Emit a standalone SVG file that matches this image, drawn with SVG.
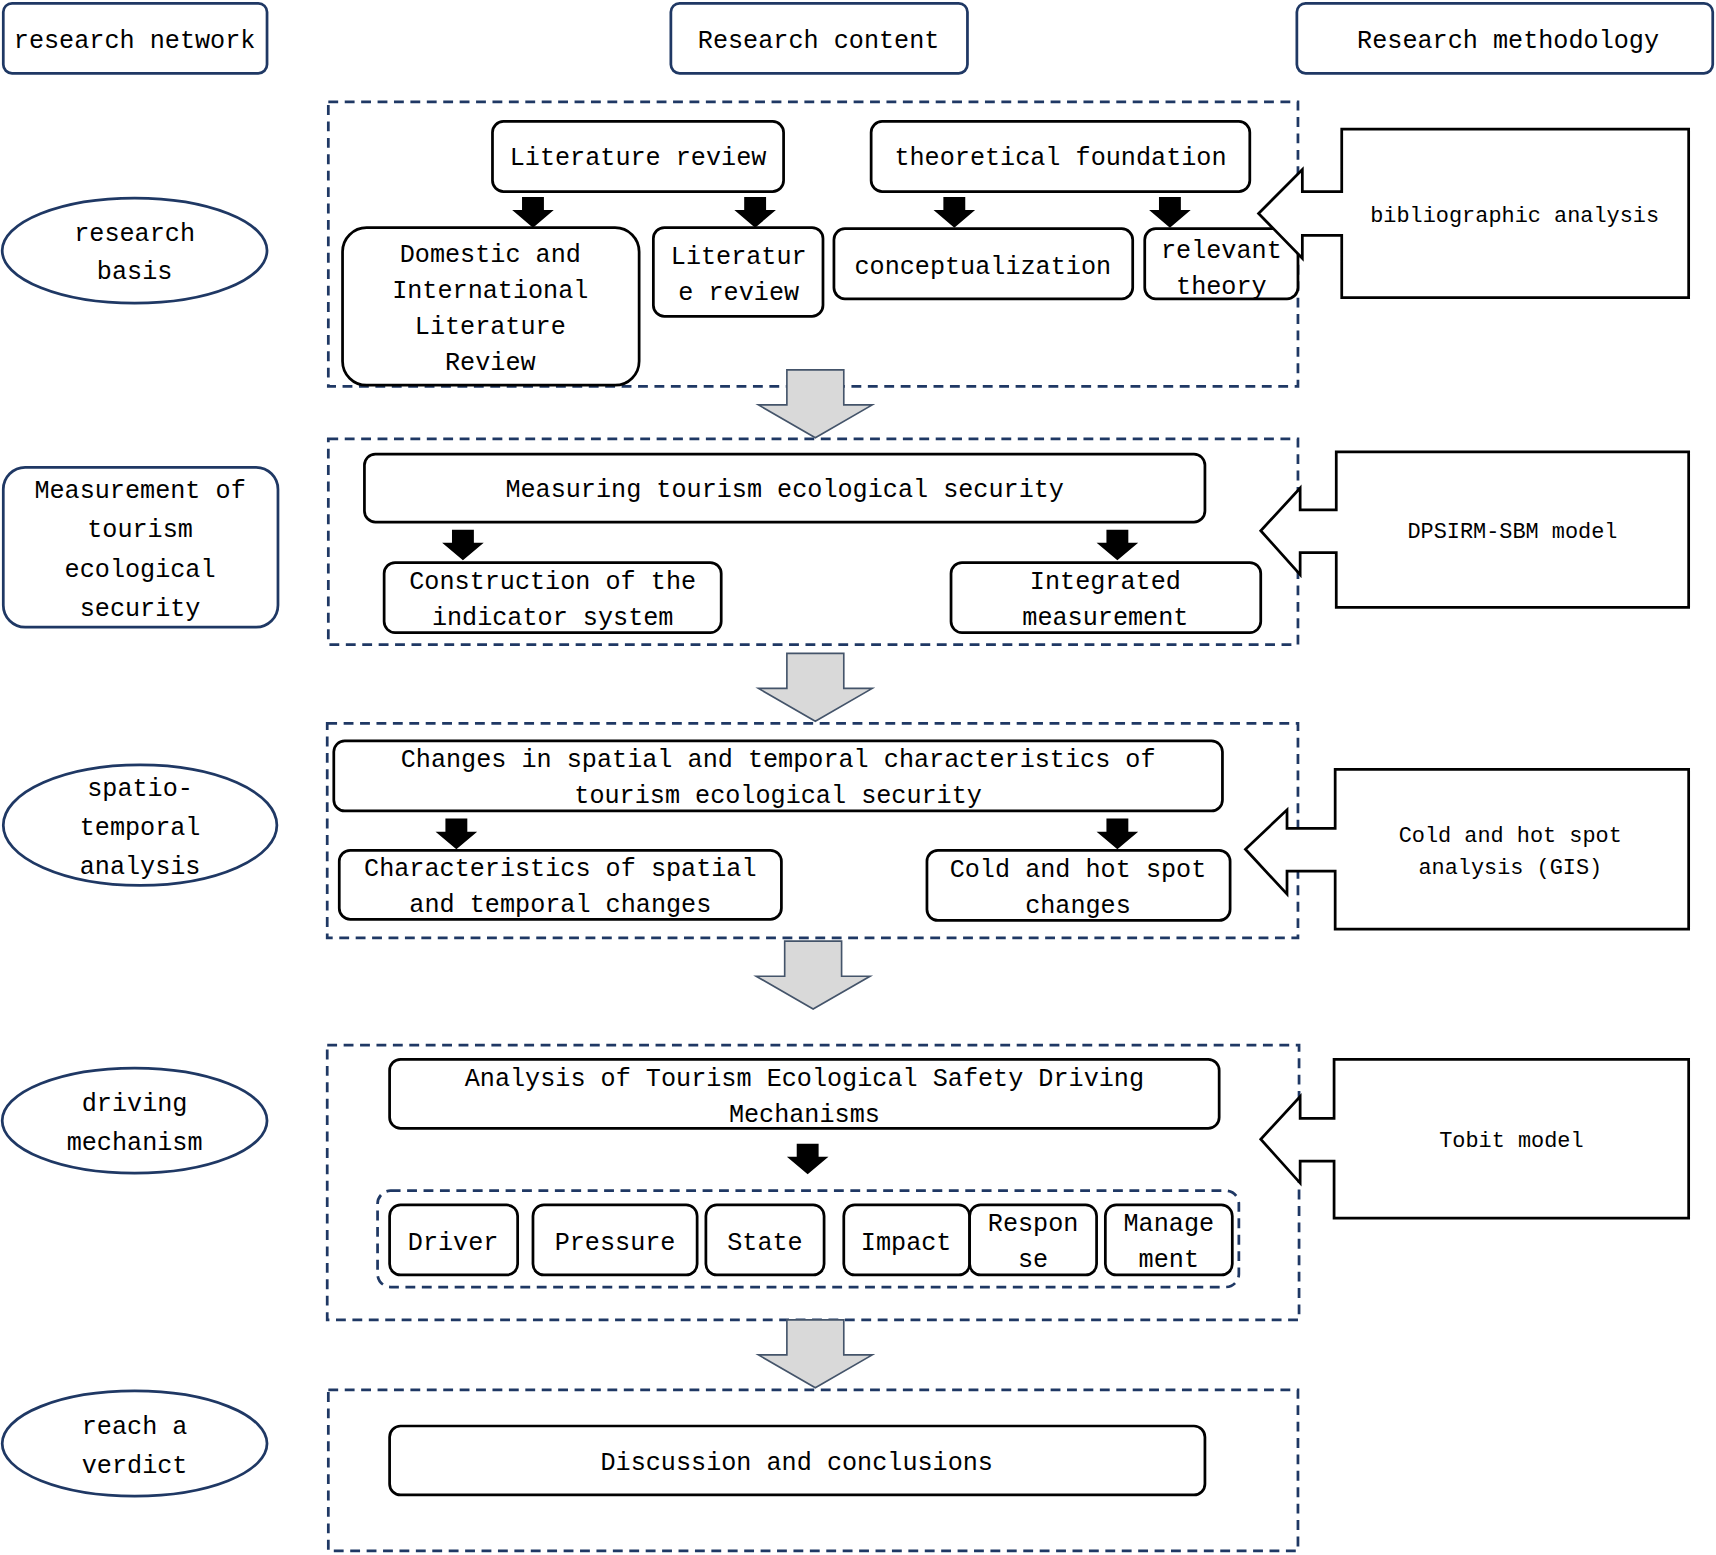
<svg xmlns="http://www.w3.org/2000/svg" width="1716" height="1555" viewBox="0 0 1716 1555">
<style>
text{font-family:"Liberation Mono","DejaVu Sans Mono",monospace;font-size:23px;fill:#000;text-anchor:middle}
.m{font-size:20px}
.hd{fill:#fff;stroke:#1f3864;stroke-width:2.5}
.dash{fill:none;stroke:#1f3864;stroke-width:2.5;stroke-dasharray:9 6}
.n{fill:#fff;stroke:#000;stroke-width:2.5}
.ba{fill:#000}
.ga{fill:#d9d9d9;stroke:#44546a;stroke-width:1.5}
.mt{fill:#fff;stroke:#000;stroke-width:2.5}
</style>
<defs>
<path id="bk" d="M-10,0 H10 V12 H19 L0,28 L-19,12 H-10 Z" class="ba"/>
<path id="gr" d="M-26,0 H26 V32 H52 L0,62 L-52,32 H-26 Z" class="ga"/>
</defs>
<rect width="1716" height="1555" fill="#fff"/>
<g transform="scale(1.0944)">
<g id="headers">
<rect class="hd" x="3" y="3" width="241" height="64" rx="8"/><text x="123" y="44">research network</text>
<rect class="hd" x="613" y="3" width="271" height="64" rx="8"/><text x="748" y="44">Research content</text>
<rect class="hd" x="1185" y="3" width="380" height="64" rx="8"/><text x="1378" y="44">Research methodology</text>
</g>
<g id="stages">
<ellipse class="hd" cx="123" cy="229" rx="121" ry="48"/><text x="123" y="220">research<tspan x="123" dy="35">basis</tspan></text>
<rect class="hd" x="3" y="427" width="251" height="146" rx="20"/><text x="128" y="455">Measurement of<tspan x="128" dy="36">tourism</tspan><tspan x="128" dy="36">ecological</tspan><tspan x="128" dy="36">security</tspan></text>
<ellipse class="hd" cx="128" cy="754" rx="125" ry="55"/><text x="128" y="727">spatio-<tspan x="128" dy="36">temporal</tspan><tspan x="128" dy="36">analysis</tspan></text>
<ellipse class="hd" cx="123" cy="1024" rx="121" ry="48"/><text x="123" y="1015">driving<tspan x="123" dy="36">mechanism</tspan></text>
<ellipse class="hd" cx="123" cy="1319" rx="121" ry="48"/><text x="123" y="1310">reach a<tspan x="123" dy="36">verdict</tspan></text>
</g>
<g id="sections">
<rect class="dash" x="300" y="93" width="886" height="260"/>
<rect class="dash" x="300" y="401" width="886" height="188"/>
<rect class="dash" x="299" y="661" width="887" height="196"/>
<rect class="dash" x="299" y="955" width="888" height="251"/>
<rect class="dash" x="300" y="1270" width="886" height="147"/>
<rect class="dash" x="345" y="1088" width="787" height="88" rx="12"/>
</g>
<g id="connectors">
<use href="#bk" x="487" y="180"/><use href="#bk" x="690" y="180"/><use href="#bk" x="872" y="180"/><use href="#bk" x="1069" y="180"/>
<use href="#bk" x="423" y="484"/><use href="#bk" x="1021" y="484"/>
<use href="#bk" x="417" y="748"/><use href="#bk" x="1021" y="748"/>
<use href="#bk" x="738" y="1045"/>
<use href="#gr" x="745" y="338"/><use href="#gr" x="745" y="597"/><use href="#gr" x="743" y="860"/><use href="#gr" x="745" y="1206"/>
</g>
<g id="n1">
<rect class="n" x="450" y="111" width="266" height="64" rx="10"/><text x="583" y="151">Literature review</text>
<rect class="n" x="796" y="111" width="346" height="64" rx="10"/><text x="969" y="151">theoretical foundation</text>
<rect class="n" x="313" y="208" width="271" height="144" rx="22"/><text x="448" y="239">Domestic and<tspan x="448" dy="33">International</tspan><tspan x="448" dy="33">Literature</tspan><tspan x="448" dy="33">Review</tspan></text>
<rect class="n" x="597" y="208" width="155" height="81" rx="10"/><text x="675" y="241">Literatur<tspan x="675" dy="33">e review</tspan></text>
<rect class="n" x="762" y="209" width="273" height="64" rx="10"/><text x="898" y="250">conceptualization</text>
<rect class="n" x="1046" y="209" width="140" height="64" rx="10"/><text x="1116" y="236">relevant<tspan x="1116" dy="33">theory</tspan></text>
</g>
<g id="n2">
<rect class="n" x="333" y="415" width="768" height="62" rx="10"/><text x="717" y="454">Measuring tourism ecological security</text>
<rect class="n" x="351" y="514" width="308" height="64" rx="10"/><text x="505" y="538">Construction of the<tspan x="505" dy="33">indicator system</tspan></text>
<rect class="n" x="869" y="514" width="283" height="64" rx="10"/><text x="1010" y="538">Integrated<tspan x="1010" dy="33">measurement</tspan></text>
</g>
<g id="n3">
<rect class="n" x="305" y="677" width="812" height="64" rx="10"/><text x="711" y="701">Changes in spatial and temporal characteristics of<tspan x="711" dy="33">tourism ecological security</tspan></text>
<rect class="n" x="310" y="777" width="404" height="63" rx="10"/><text x="512" y="800">Characteristics of spatial<tspan x="512" dy="33">and temporal changes</tspan></text>
<rect class="n" x="847" y="777" width="277" height="64" rx="10"/><text x="985" y="801">Cold and hot spot<tspan x="985" dy="33">changes</tspan></text>
</g>
<g id="n4">
<rect class="n" x="356" y="968" width="758" height="63" rx="10"/><text x="735" y="992">Analysis of Tourism Ecological Safety Driving<tspan x="735" dy="33">Mechanisms</tspan></text>
<rect class="n" x="356" y="1101" width="117" height="64" rx="10"/><text x="414" y="1142">Driver</text>
<rect class="n" x="487" y="1101" width="150" height="64" rx="10"/><text x="562" y="1142">Pressure</text>
<rect class="n" x="645" y="1101" width="108" height="64" rx="10"/><text x="699" y="1142">State</text>
<rect class="n" x="771" y="1101" width="115" height="64" rx="10"/><text x="828" y="1142">Impact</text>
<rect class="n" x="886" y="1101" width="116" height="64" rx="10"/><text x="944" y="1125">Respon<tspan x="944" dy="33">se</tspan></text>
<rect class="n" x="1010" y="1101" width="116" height="64" rx="10"/><text x="1068" y="1125">Manage<tspan x="1068" dy="33">ment</tspan></text>
</g>
<g id="n5">
<rect class="n" x="356" y="1303" width="745" height="63" rx="10"/><text x="728" y="1343">Discussion and conclusions</text>
</g>
<g id="methods">
<path class="mt" d="M1226,118 H1543 V272 H1226 V215 H1190 V236 L1150,195 L1190,155 V175 H1226 Z"/><text class="m" x="1384" y="203">bibliographic analysis</text>
<path class="mt" d="M1221,413 H1543 V555 H1221 V505 H1188 V525 L1152,485 L1188,446 V466 H1221 Z"/><text class="m" x="1382" y="492">DPSIRM-SBM model</text>
<path class="mt" d="M1220,703 H1543 V849 H1220 V796 H1176 V817 L1138,776 L1176,740 V757 H1220 Z"/><text class="m" x="1380" y="769">Cold and hot spot<tspan x="1380" dy="30">analysis (GIS)</tspan></text>
<path class="mt" d="M1219,968 H1543 V1113 H1219 V1061 H1188 V1081 L1152,1041 L1188,1002 V1022 H1219 Z"/><text class="m" x="1381" y="1048">Tobit model</text>
</g>
</g>
</svg>
